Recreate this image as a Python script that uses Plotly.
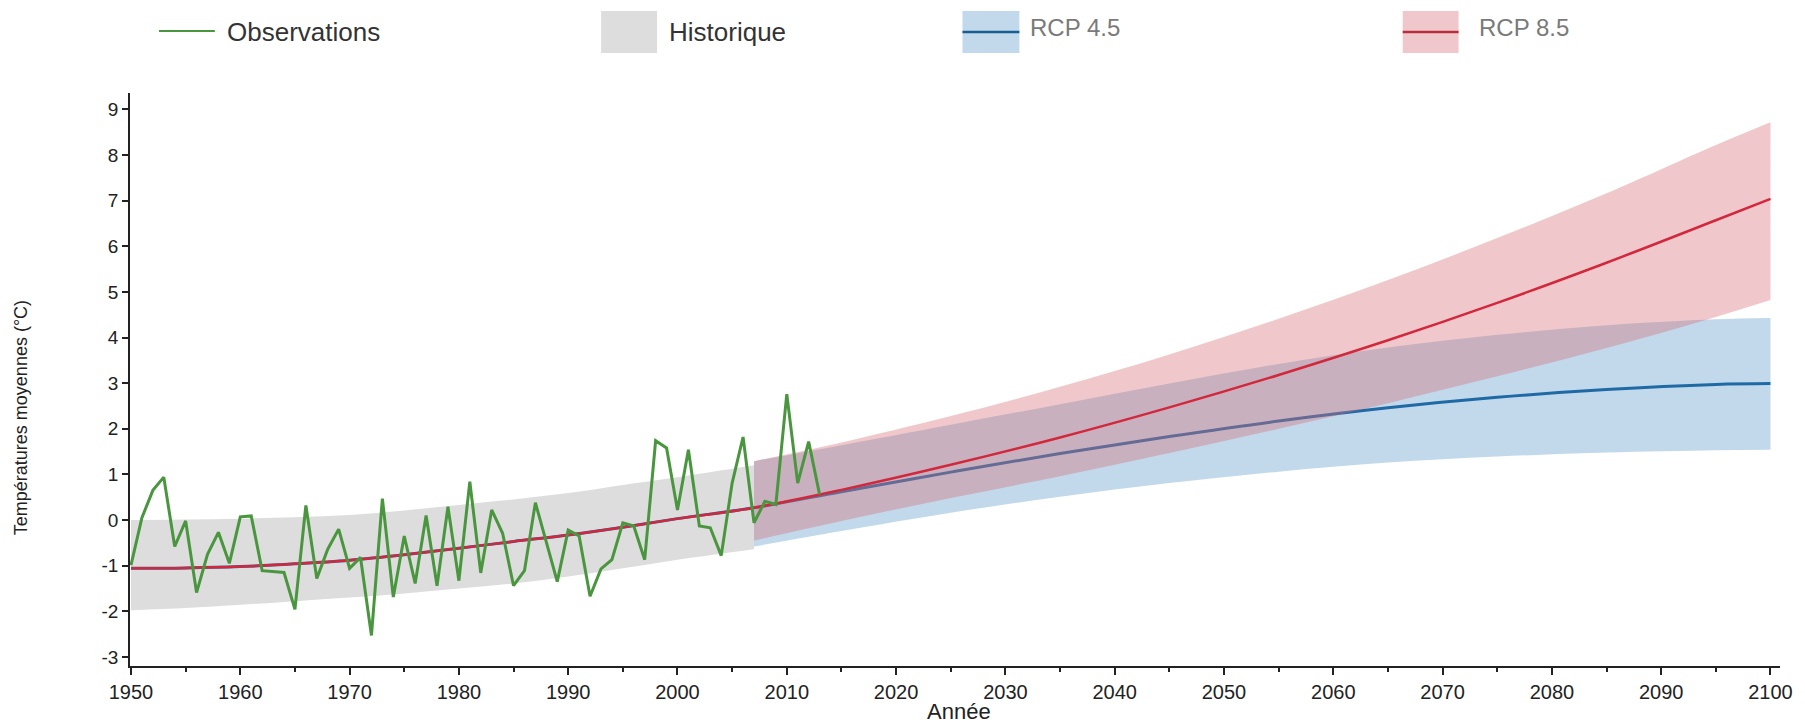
import plotly.graph_objects as go

# ---------------- data ----------------
obs_years = list(range(1950, 2014))
obs_values = [-0.99, 0.05, 0.65, 0.94, -0.58, -0.02, -1.59, -0.75, -0.27, -0.95,
              0.07, 0.09, -1.11, -1.13, -1.15, -1.96, 0.32, -1.28, -0.64, -0.20,
              -1.06, -0.82, -2.53, 0.47, -1.69, -0.35, -1.39, 0.10, -1.44, 0.29,
              -1.33, 0.84, -1.16, 0.22, -0.29, -1.44, -1.11, 0.38, -0.46, -1.35,
              -0.22, -0.35, -1.67, -1.07, -0.87, -0.06, -0.13, -0.87, 1.74, 1.58,
              0.22, 1.54, -0.13, -0.17, -0.78, 0.81, 1.82, -0.06, 0.41, 0.34,
              2.76, 0.81, 1.72, 0.56]

hist_years = [1950, 1955, 1960, 1965, 1970, 1975, 1980, 1985, 1990, 1995, 2000, 2007]
hist_mean = [-1.06, -1.05, -1.02, -0.96, -0.88, -0.76, -0.62, -0.47, -0.33, -0.16, 0.03, 0.27]
hist_upper = [0.00, 0.01, 0.03, 0.06, 0.11, 0.21, 0.33, 0.45, 0.59, 0.77, 0.94, 1.20]
hist_lower = [-1.98, -1.93, -1.86, -1.78, -1.70, -1.61, -1.50, -1.39, -1.24, -1.06, -0.87, -0.64]

rcp_years = [2007, 2015, 2025, 2035, 2045, 2055, 2065, 2075, 2085, 2095, 2100]
rcp45_mean = [0.27, 0.62, 1.05, 1.46, 1.83, 2.17, 2.46, 2.69, 2.86, 2.97, 2.99]
rcp45_upper = [1.29, 1.64, 2.09, 2.54, 2.99, 3.42, 3.78, 4.06, 4.27, 4.40, 4.43]
rcp45_lower = [-0.58, -0.24, 0.16, 0.51, 0.81, 1.06, 1.26, 1.39, 1.48, 1.53, 1.54]
rcp85_mean = [0.27, 0.66, 1.21, 1.81, 2.47, 3.18, 3.94, 4.76, 5.64, 6.57, 7.04]
rcp85_upper = [1.29, 1.70, 2.28, 2.92, 3.63, 4.41, 5.26, 6.18, 7.16, 8.22, 8.72]
rcp85_lower = [-0.45, -0.02, 0.48, 0.96, 1.47, 2.00, 2.56, 3.15, 3.77, 4.45, 4.82]

x_ticks = list(range(1950, 2101, 10))
y_ticks = list(range(-3, 10))
y_tick_labels = ["-3", "-2", "-1", "0", "1", "2", "3", "4", "5", "6", "7", "8", "9"]

legend_labels = ["Observations", "Historique", "RCP 4.5", "RCP 8.5"]

# ---------------- styles ----------------
FONT = "Liberation Sans, Arial, sans-serif"
C_OBS = "#4a963f"
C_HIST = "#dddddd"
C_BLUE = "#1f6aa5"
C_RED = "#d3283c"
F_BLUE = "rgba(31,119,180,0.28)"
F_RED = "rgba(215,108,119,0.375)"

W, H = 1805, 727
L, R, T, B = 130, 22, 93, 61
PW, PH = W - L - R, H - T - B


def px(xp):
    return (xp - L) / PW


def py(yp):
    return (H - B - yp) / PH


fig = go.Figure()

# historic band
fig.add_trace(go.Scatter(x=hist_years, y=hist_lower, mode="lines", line=dict(width=0, shape="spline"),
                         showlegend=False, hoverinfo="skip"))
fig.add_trace(go.Scatter(x=hist_years, y=hist_upper, mode="lines", line=dict(width=0, shape="spline"),
                         fill="tonexty", fillcolor=C_HIST, showlegend=False, name=legend_labels[1]))

# RCP 4.5 band + line
fig.add_trace(go.Scatter(x=rcp_years, y=rcp45_lower, mode="lines", line=dict(width=0, shape="spline"),
                         showlegend=False, hoverinfo="skip"))
fig.add_trace(go.Scatter(x=rcp_years, y=rcp45_upper, mode="lines", line=dict(width=0, shape="spline"),
                         fill="tonexty", fillcolor=F_BLUE, showlegend=False, hoverinfo="skip"))
fig.add_trace(go.Scatter(x=hist_years + rcp_years[1:], y=hist_mean + rcp45_mean[1:], mode="lines",
                         line=dict(color=C_BLUE, width=3, shape="spline"), showlegend=False,
                         name=legend_labels[2]))

# RCP 8.5 band + line
fig.add_trace(go.Scatter(x=rcp_years, y=rcp85_lower, mode="lines", line=dict(width=0, shape="spline"),
                         showlegend=False, hoverinfo="skip"))
fig.add_trace(go.Scatter(x=rcp_years, y=rcp85_upper, mode="lines", line=dict(width=0, shape="spline"),
                         fill="tonexty", fillcolor=F_RED, showlegend=False, hoverinfo="skip"))
fig.add_trace(go.Scatter(x=hist_years + rcp_years[1:], y=hist_mean + rcp85_mean[1:], mode="lines",
                         line=dict(color=C_RED, width=2.5, shape="spline"), showlegend=False,
                         name=legend_labels[3]))

# observations
fig.add_trace(go.Scatter(x=obs_years, y=obs_values, mode="lines",
                         line=dict(color=C_OBS, width=3), showlegend=False, name=legend_labels[0]))

# ---------------- manual legend ----------------
shapes = []
annots = []
# Observations
shapes.append(dict(type="line", xref="paper", yref="paper", x0=px(159), x1=px(215), y0=py(31), y1=py(31),
                   line=dict(color=C_OBS, width=2)))
annots.append(dict(text=legend_labels[0], x=px(225), y=py(32), xanchor="left", yanchor="middle",
                   font=dict(size=26, color="#333333")))
# Historique
shapes.append(dict(type="rect", xref="paper", yref="paper", x0=px(602), x1=px(658), y0=py(53), y1=py(11),
                   fillcolor=C_HIST, line=dict(width=0)))
annots.append(dict(text=legend_labels[1], x=px(668), y=py(32), xanchor="left", yanchor="middle",
                   font=dict(size=26, color="#333333")))
# RCP 4.5
shapes.append(dict(type="rect", xref="paper", yref="paper", x0=px(964), x1=px(1021), y0=py(53), y1=py(11),
                   fillcolor=F_BLUE, line=dict(width=0)))
shapes.append(dict(type="line", xref="paper", yref="paper", x0=px(964), x1=px(1021), y0=py(32), y1=py(32),
                   line=dict(color="#1b5e95", width=2.5)))
annots.append(dict(text=legend_labels[2], x=px(1030), y=py(28), xanchor="left", yanchor="middle",
                   font=dict(size=24, color="#7a7a7a")))
# RCP 8.5
shapes.append(dict(type="rect", xref="paper", yref="paper", x0=px(1405), x1=px(1461), y0=py(53), y1=py(11),
                   fillcolor=F_RED, line=dict(width=0)))
shapes.append(dict(type="line", xref="paper", yref="paper", x0=px(1405), x1=px(1461), y0=py(32), y1=py(32),
                   line=dict(color="#b5303f", width=2.5)))
annots.append(dict(text=legend_labels[3], x=px(1479), y=py(28), xanchor="left", yanchor="middle",
                   font=dict(size=24, color="#7a7a7a")))

# axis titles
annots.append(dict(text="Année", x=px(961), y=py(711), xanchor="center", yanchor="middle",
                   font=dict(size=22, color="#222222")))
annots.append(dict(text="Températures moyennes (°C)", x=px(21), y=py(418), xanchor="center",
                   yanchor="middle", textangle=-90, font=dict(size=18, color="#222222")))

for a in annots:
    a.update(xref="paper", yref="paper", showarrow=False)

fig.update_layout(
    width=W, height=H,
    margin=dict(l=L, r=R, t=T, b=B, pad=0),
    paper_bgcolor="white", plot_bgcolor="white",
    font=dict(family=FONT, color="#222222"),
    showlegend=False,
    shapes=shapes, annotations=annots,
    xaxis=dict(range=[1949.909, 2100.87], tickvals=x_ticks, ticks="outside", ticklen=7,
               tickwidth=1.5, tickcolor="#222222", showline=True, linecolor="#222222", linewidth=1.5,
               showgrid=False, zeroline=False, tickfont=dict(size=20, color="#222222"),
               minor=dict(dtick=5, tick0=1950, ticks="outside", ticklen=4, tickwidth=1.5,
                          tickcolor="#222222", showgrid=False)),
    yaxis=dict(range=[-3.2, 9.36], tickvals=y_ticks, ticktext=y_tick_labels, ticks="outside",
               ticklen=6, tickwidth=1.5, tickcolor="#222222", showline=True, linecolor="#222222",
               linewidth=1.5, showgrid=False, zeroline=False, tickfont=dict(size=19, color="#222222")),
)

fig.write_html("out.html")
